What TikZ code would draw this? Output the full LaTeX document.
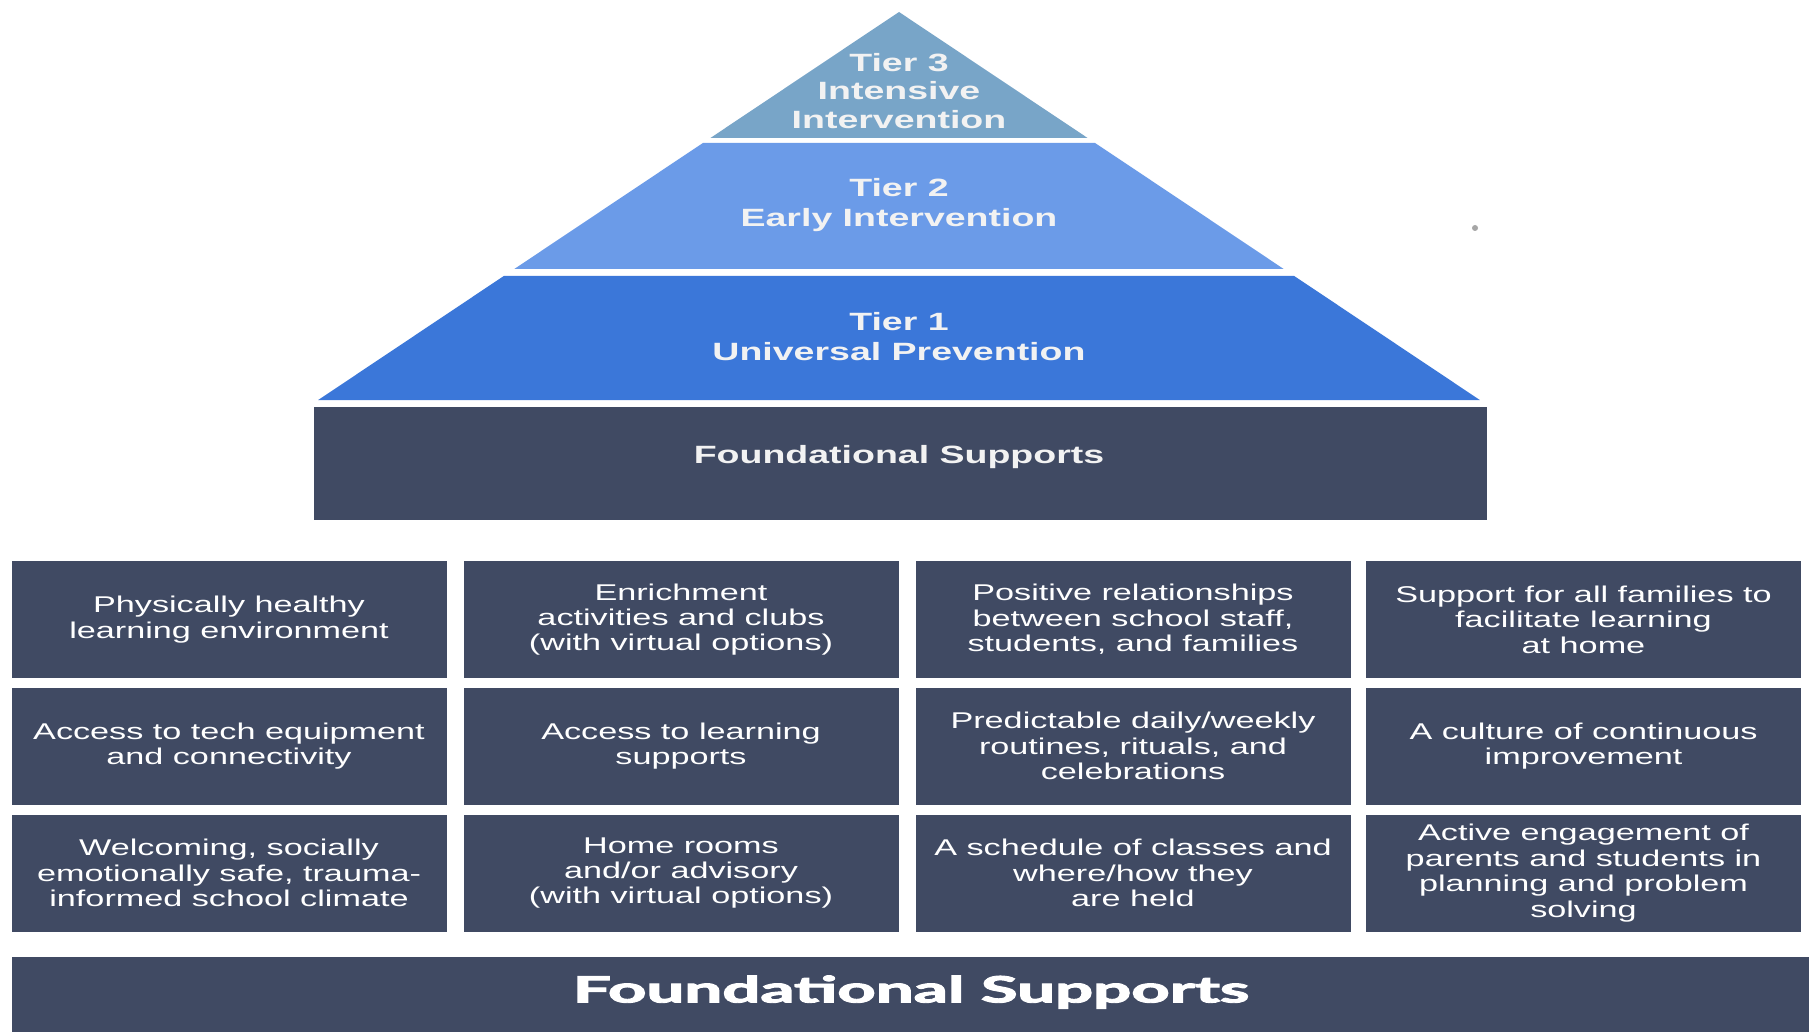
\documentclass[tikz,border=0pt]{standalone}
\usepackage{fontspec}
\setmainfont{Liberation Sans}
\newfontfamily\boxfont[FakeStretch=1.5]{Liberation Sans}
\newfontfamily\latofont[BoldFeatures={FakeBold=2.5}]{Lato}
\definecolor{navy}{HTML}{404A63}
\definecolor{tierthree}{HTML}{78A5C8}
\definecolor{tiertwo}{HTML}{6B9BE8}
\definecolor{tierone}{HTML}{3B77D9}
\definecolor{tiertext}{HTML}{F2F2F2}
\tikzset{
  gridbox/.style={fill=navy, draw=none, inner sep=0pt, minimum width=217.5pt, minimum height=58.5pt,
    align=center, text=white, font=\boxfont\fontsize{11.4}{12.7}\selectfont},
  tierlabel/.style={align=center, text=tiertext, inner sep=0pt, font=\boxfont\bfseries\fontsize{12.5}{14.2}\selectfont},
}
\begin{document}
\begin{tikzpicture}[x=0.5pt,y=-0.5pt]
\useasboundingbox (0,0) rectangle (1809,1032);
\fill[white] (0,0) rectangle (1809,1032);
% pyramid tiers
\fill[tierthree] (899,12) -- (1087.6,138) -- (710.4,138) -- cycle;
\fill[tiertwo] (702.9,143) -- (1095.1,143) -- (1283.7,269) -- (514.3,269) -- cycle;
\fill[tierone] (503.8,276) -- (1294.2,276) -- (1479.8,400) -- (318.2,400) -- cycle;
\node[tierlabel] (t3) at (899,91) {Tier 3\\Intensive\\Intervention};
\node[tierlabel, font=\boxfont\bfseries\fontsize{12.5}{15}\selectfont] (t2) at (899,205) {Tier 2\\Early Intervention};
\node[tierlabel, font=\boxfont\bfseries\fontsize{12.5}{15}\selectfont] (t1) at (899,337) {Tier 1\\Universal Prevention};
% foundational box under pyramid
\node[fill=navy, inner sep=0pt, minimum width=586.5pt, minimum height=56.5pt] (fbox) at (900.5,463.5) {};
\node[tierlabel] (ftext) at (899,457) {Foundational Supports};
% stray dot
\fill[gray!70] (1475,228) circle (3);
% grid boxes
\node[gridbox] (b11) at (229,619.5) {Physically healthy\\learning environment};
\node[gridbox] (b12) at (681,619.5) {Enrichment\\activities and clubs\\(with virtual options)};
\node[gridbox] (b13) at (1133,619.5) {Positive relationships\\between school staff,\\students, and families};
\node[gridbox] (b14) at (1583.5,619.5) {Support for all families to\\facilitate learning\\at home};
\node[gridbox] (b21) at (229,746) {Access to tech equipment\\and connectivity};
\node[gridbox] (b22) at (681,746) {Access to learning\\supports};
\node[gridbox] (b23) at (1133,746) {Predictable daily/weekly\\routines, rituals, and\\celebrations};
\node[gridbox] (b24) at (1583.5,746) {A culture of continuous\\improvement};
\node[gridbox] (b31) at (229,873) {Welcoming, socially\\emotionally safe, trauma-\\informed school climate};
\node[gridbox] (b32) at (681,873) {Home rooms\\and/or advisory\\(with virtual options)};
\node[gridbox] (b33) at (1133,873) {A schedule of classes and\\where/how they\\are held};
\node[gridbox] (b34) at (1583.5,873) {Active engagement of\\parents and students in\\planning and problem\\solving};
% bottom banner
\node[fill=navy, inner sep=0pt, minimum width=898.5pt, minimum height=37.5pt, anchor=north west] (banner) at (12,957) {};
\node[text=white, inner sep=0pt] (bannertext) at (911,992) {\resizebox{338pt}{13.5pt}{\latofont\bfseries Foundational Supports}};
\end{tikzpicture}
\end{document}
